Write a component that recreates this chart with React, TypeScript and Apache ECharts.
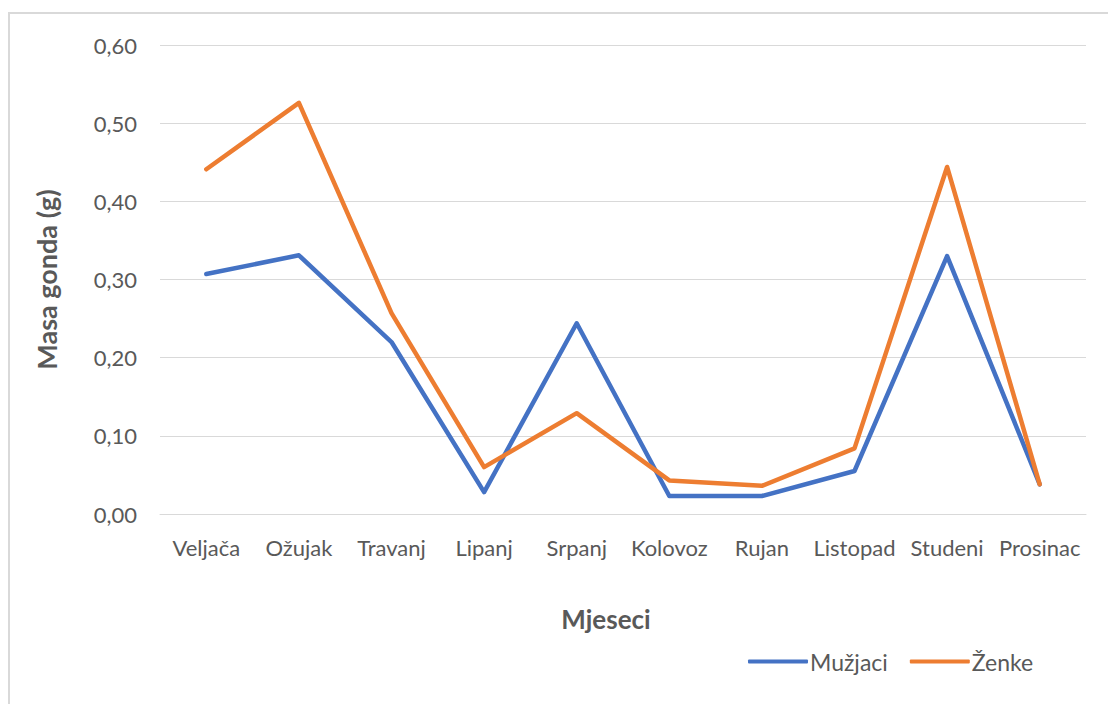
import React, { useEffect, useRef } from "react";
import * as echarts from "echarts";

const months = ["Veljača", "Ožujak", "Travanj", "Lipanj", "Srpanj", "Kolovoz", "Rujan", "Listopad", "Studeni", "Prosinac"];
const muzjaci = [0.307, 0.331, 0.22, 0.028, 0.244, 0.023, 0.023, 0.055, 0.33, 0.038];
const zenke = [0.441, 0.526, 0.257, 0.06, 0.129, 0.043, 0.036, 0.084, 0.444, 0.038];
const seriesNames = ["Mužjaci", "Ženke"];
const FONT = "Lato, 'Open Sans', sans-serif";

export default function App() {
  const ref = useRef<HTMLDivElement>(null);
  useEffect(() => {
    const chart = echarts.init(ref.current!, null, { renderer: "svg" });
    chart.setOption({
      animation: false,
      backgroundColor: "#ffffff",
      textStyle: { fontFamily: FONT },
      graphic: [
        {
          type: "rect",
          shape: { x: 9, y: 13, width: 1200, height: 800 },
          style: { fill: "none", stroke: "#d9d9d9", lineWidth: 2 },
          silent: true,
        },
      ],
      grid: { left: 160, right: 22, top: 45, bottom: 190, containLabel: false },
      legend: {
        data: seriesNames,
        left: 748,
        top: 650,
        padding: 0,
        itemWidth: 60,
        itemHeight: 4,
        itemGap: 22,
        icon: "roundRect",
        textStyle: { fontFamily: FONT, fontSize: 23, color: "#595959", padding: [0, 0, 0, -3] },
      },
      xAxis: {
        type: "category",
        data: months,
        boundaryGap: true,
        name: "Mjeseci",
        nameLocation: "middle",
        nameGap: 92,
        nameTextStyle: { fontFamily: FONT, fontSize: 26, fontWeight: "bold", color: "#595959", padding: [0, 34, 0, 0] },
        axisLine: { show: true, lineStyle: { color: "#d9d9d9", width: 1 } },
        axisTick: { show: false },
        axisLabel: { fontFamily: FONT, fontSize: 22, color: "#595959", margin: 22, interval: 0 },
      },
      yAxis: {
        type: "value",
        min: 0,
        max: 0.6,
        interval: 0.1,
        name: "Masa gonda (g)",
        nameLocation: "middle",
        nameGap: 100,
        nameRotate: 90,
        nameTextStyle: { fontFamily: FONT, fontSize: 27, fontWeight: "bold", color: "#595959" },
        axisLine: { show: false },
        axisTick: { show: false },
        axisLabel: {
          fontFamily: FONT,
          fontSize: 22,
          color: "#595959",
          margin: 23,
          formatter: (v: number) => v.toFixed(2).replace(".", ","),
        },
        splitLine: { lineStyle: { color: "#d9d9d9", width: 1 } },
      },
      series: [
        {
          name: seriesNames[0],
          type: "line",
          data: muzjaci,
          symbol: "none",
          lineStyle: { color: "#4472C4", width: 4.5, cap: "round", join: "round" },
          itemStyle: { color: "#4472C4" },
        },
        {
          name: seriesNames[1],
          type: "line",
          data: zenke,
          symbol: "none",
          lineStyle: { color: "#ED7D31", width: 4.5, cap: "round", join: "round" },
          itemStyle: { color: "#ED7D31" },
        },
      ],
    });
    return () => chart.dispose();
  }, []);
  return <div ref={ref} style={{ position: "fixed", left: 0, top: 0, width: 1108, height: 704 }} />;
}
